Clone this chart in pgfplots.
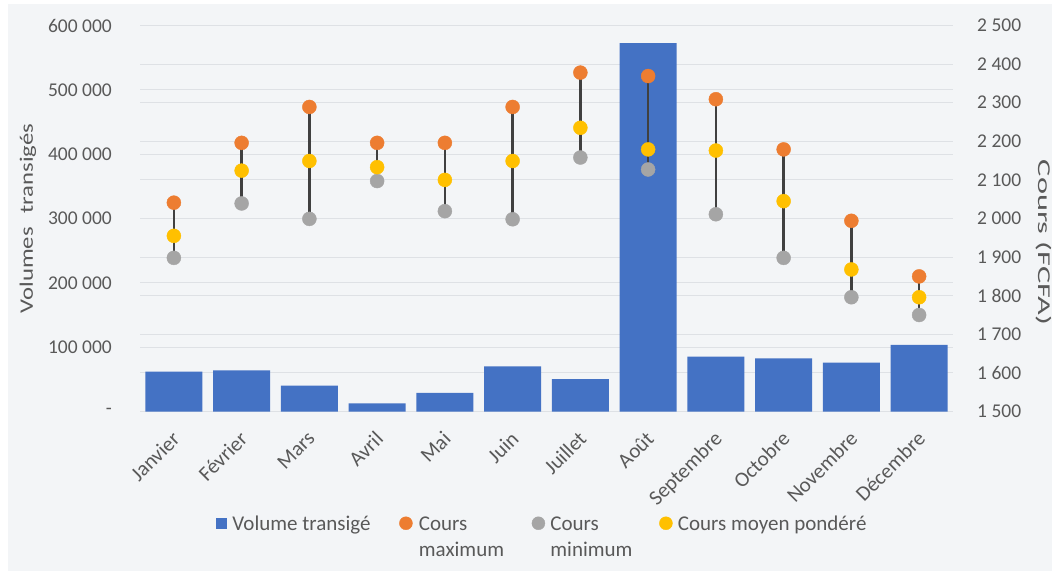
\documentclass[border=0pt]{standalone}
\usepackage{fontspec}
\setmainfont{Carlito}
\usepackage{graphicx}
\usepackage{pgfplots}
\pgfplotsset{compat=1.18}
\usepackage{pgfplotstable}
\definecolor{bg}{RGB}{243,245,247}
\definecolor{gridc}{RGB}{222,225,229}
\definecolor{txt}{RGB}{89,89,89}
\definecolor{barblue}{RGB}{68,114,196}
\definecolor{corange}{RGB}{237,125,49}
\definecolor{cgray}{RGB}{165,165,165}
\definecolor{cyellow}{RGB}{255,192,0}
\definecolor{stem}{RGB}{64,64,64}

\pgfplotstableread{
x vol
0 61900
1 64000
2 40100
3 12700
4 28800
5 70300
6 50500
7 572800
8 85200
9 82700
10 75900
11 103400
}\vols

\pgfplotstableread{
x max min mean
0 2041 1898 1955
1 2196 2039 2124
2 2289 1999 2149
3 2196 2097 2133
4 2196 2019 2100
5 2289 1998 2149
6 2378 2158 2235
7 2369 2127 2179
8 2309 2011 2176
9 2179 1898 2045
10 1994 1796 1868
11 1850 1750 1796
}\cours

\pgfplotstableread{
x y
0 1898
0 2041
0 nan
1 2039
1 2196
1 nan
2 1999
2 2289
2 nan
3 2097
3 2196
3 nan
4 2019
4 2196
4 nan
5 1998
5 2289
5 nan
6 2158
6 2378
6 nan
7 2127
7 2369
7 nan
8 2011
8 2309
8 nan
9 1898
9 2179
9 nan
10 1796
10 1994
10 nan
11 1750
11 1850
}\stems

\begin{document}
\begin{tikzpicture}[x=1pt,y=1pt]
\fill[white] (0,0) rectangle (1052,571);
\fill[bg] (8,0) rectangle (1052,567);
\useasboundingbox (0,0) rectangle (1052,571);

\begin{axis}[
  at={(140pt,159.5pt)}, anchor=south west,
  scale only axis, width=813pt, height=386pt,
  xmin=-0.5, xmax=11.5, ymin=0, ymax=600000,
  scaled y ticks=false,
  axis line style={draw=none}, major tick length=0pt,
  xtick={0,1,2,3,4,5,6,7,8,9,10,11},
  xticklabels={Janvier,Février,Mars,Avril,Mai,Juin,Juillet,Août,Septembre,Octobre,Novembre,Décembre},
  xticklabel style={xshift=-3pt, yshift=-18.5pt, rotate=45, anchor=north east, inner sep=0pt, text=txt, font=\fontsize{21}{25}\selectfont},
  ytick={0,100000,200000,300000,400000,500000,600000},
  yticklabels={-\hspace{6pt},100~000,200~000,300~000,400~000,500~000,600~000},
  yticklabel style={anchor=east, inner sep=0pt, xshift=-28pt, text=txt, font=\fontsize{19.5}{23}\selectfont},
  ymajorgrids, grid style={draw=gridc, line width=0.9pt},
  extra y ticks={60000,120000,180000,240000,360000,420000,480000,540000},
  extra y tick labels={},
  extra y tick style={grid=major, major tick length=0pt},
  every axis y label/.style={at={(axis description cs:-0.1378,0.5)}, rotate=90, anchor=center},
  ylabel={\textcolor{txt}{\fontsize{19}{23}\selectfont\scalebox{1.3}[1]{Volumes\hspace{0.55em}transigés}}},
]
\addplot[ybar, bar width=57pt, bar shift=0pt, fill=barblue, draw=none] table[x=x, y=vol] {\vols};
\end{axis}

\begin{axis}[
  at={(140pt,159.5pt)}, anchor=south west,
  scale only axis, width=813pt, height=386pt,
  xmin=-0.5, xmax=11.5, ymin=1500, ymax=2500,
  hide x axis,
  axis line style={draw=none}, major tick length=0pt,
  ytick={1500,1600,1700,1800,1900,2000,2100,2200,2300,2400,2500},
  yticklabels={1~500,1~600,1~700,1~800,1~900,2~000,2~100,2~200,2~300,2~400,2~500},
  yticklabel pos=right,
  yticklabel style={anchor=west, inner sep=0pt, xshift=24pt, text=txt, font=\fontsize{19.5}{23}\selectfont},
  every axis y label/.style={at={(axis description cs:1.112,0.4377)}, rotate=-90, anchor=center},
  ylabel={\textcolor{txt}{\fontsize{18}{22}\selectfont\scalebox{1.8}[1]{Cours (FCFA)}}},
  unbounded coords=jump,
  legend image code/.code={\draw[#1, mark size=6.5pt] plot coordinates {(0pt,7.5pt)};},
  legend style={at={(axis description cs:0.0935,-0.2618)}, anchor=north west,
    draw=none, fill=none, inner sep=0pt, outer sep=0pt,
    column sep=0pt, row sep=0pt,
    nodes={inner sep=0pt, outer sep=0pt, text=txt, font=\fontsize{21}{26}\selectfont},
    cells={anchor=base west}},
  legend columns=4,
]
\addlegendimage{legend image code/.code={\fill[barblue] (-5pt,2.5pt) rectangle (5pt,12.5pt);}}
\addlegendentry{\begin{tabular}[t]{@{\hspace{6pt}}p{167pt}@{}}Volume transigé\end{tabular}}
\addplot[draw=stem, line width=2.6pt, forget plot] table[x=x, y=y] {\stems};
\addplot[only marks, mark=*, mark size=7pt, color=corange, mark options={draw=none, fill=corange}] table[x=x, y=max] {\cours};
\addlegendentry{\begin{tabular}[t]{@{\hspace{6.5pt}}p{113pt}@{}}Cours\\maximum\end{tabular}}
\addplot[only marks, mark=*, mark size=7pt, color=cgray, mark options={draw=none, fill=cgray}] table[x=x, y=min] {\cours};
\addlegendentry{\begin{tabular}[t]{@{\hspace{5.5pt}}p{109pt}@{}}Cours\\minimum\end{tabular}}
\addplot[only marks, mark=*, mark size=7pt, color=cyellow, mark options={draw=none, fill=cyellow}] table[x=x, y=mean] {\cours};
\addlegendentry{\begin{tabular}[t]{@{\hspace{5.5pt}}l@{}}Cours moyen pondéré\end{tabular}}
\end{axis}
\end{tikzpicture}
\end{document}
